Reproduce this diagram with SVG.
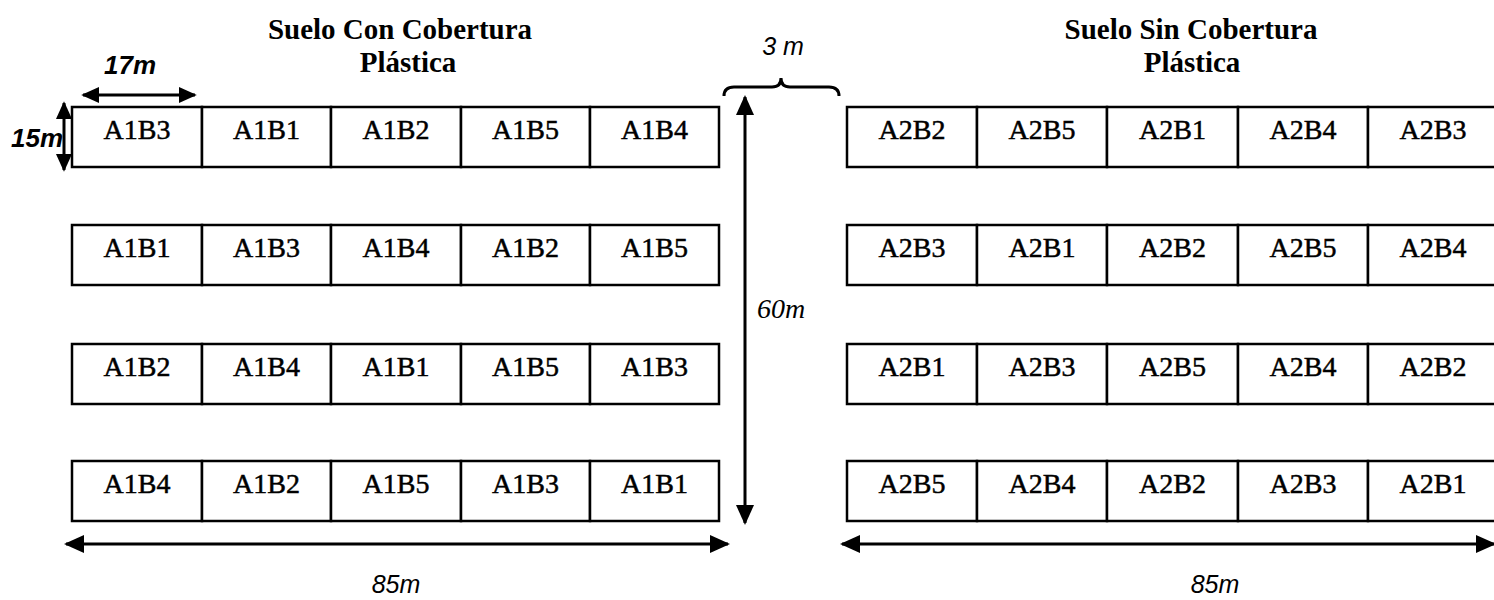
<svg xmlns="http://www.w3.org/2000/svg" width="1494" height="600" viewBox="0 0 1494 600">
<style>
.cell{fill:#fff;stroke:#000;stroke-width:2.5}
.lbl{font-family:"Liberation Serif","Times New Roman",serif;font-size:28px;text-anchor:middle;fill:#000;stroke:#000;stroke-width:0.5}
.title{font-family:"Liberation Serif","Times New Roman",serif;font-size:29px;font-weight:bold;text-anchor:middle;fill:#000}
.dim{font-family:"Liberation Sans",Arial,sans-serif;font-style:italic;font-size:25px;fill:#000}
.dimb{font-family:"Liberation Sans",Arial,sans-serif;font-style:italic;font-weight:bold;font-size:26px;fill:#000}
.dims{font-family:"Liberation Serif","Times New Roman",serif;font-style:italic;font-size:28px;fill:#000}
.arr{fill:none;stroke:#000;stroke-width:3}
</style>
<defs>
<marker id="ah" viewBox="0 0 20 20" refX="18" refY="10" markerWidth="20" markerHeight="20" markerUnits="userSpaceOnUse" orient="auto-start-reverse">
<path d="M0,1 L20,10 L0,19 Z" fill="#000"/>
</marker>
<marker id="ahs" viewBox="0 0 20 20" refX="18" refY="10" markerWidth="18" markerHeight="18" markerUnits="userSpaceOnUse" orient="auto-start-reverse">
<path d="M0,1 L20,10 L0,19 Z" fill="#000"/>
</marker>
</defs>
<rect width="1494" height="600" fill="#fff"/>

<g id="titles">
<text class="title" x="400" y="39">Suelo Con Cobertura</text>
<text class="title" x="408" y="72">Plástica</text>
<text class="title" x="1191" y="39">Suelo Sin Cobertura</text>
<text class="title" x="1192" y="72">Plástica</text>
</g>

<g id="left-block">
<g id="r1c1"><rect class="cell" x="72" y="107" width="130" height="60"/><text class="lbl" x="137" y="139">A1B3</text></g>
<g id="r1c2"><rect class="cell" x="202" y="107" width="129" height="60"/><text class="lbl" x="266.5" y="139">A1B1</text></g>
<g id="r1c3"><rect class="cell" x="331" y="107" width="130" height="60"/><text class="lbl" x="396" y="139">A1B2</text></g>
<g id="r1c4"><rect class="cell" x="461" y="107" width="129" height="60"/><text class="lbl" x="525.5" y="139">A1B5</text></g>
<g id="r1c5"><rect class="cell" x="590" y="107" width="129" height="60"/><text class="lbl" x="654.5" y="139">A1B4</text></g>

<g id="r2c1"><rect class="cell" x="72" y="225" width="130" height="60"/><text class="lbl" x="137" y="257">A1B1</text></g>
<g id="r2c2"><rect class="cell" x="202" y="225" width="129" height="60"/><text class="lbl" x="266.5" y="257">A1B3</text></g>
<g id="r2c3"><rect class="cell" x="331" y="225" width="130" height="60"/><text class="lbl" x="396" y="257">A1B4</text></g>
<g id="r2c4"><rect class="cell" x="461" y="225" width="129" height="60"/><text class="lbl" x="525.5" y="257">A1B2</text></g>
<g id="r2c5"><rect class="cell" x="590" y="225" width="129" height="60"/><text class="lbl" x="654.5" y="257">A1B5</text></g>

<g id="r3c1"><rect class="cell" x="72" y="344" width="130" height="60"/><text class="lbl" x="137" y="376">A1B2</text></g>
<g id="r3c2"><rect class="cell" x="202" y="344" width="129" height="60"/><text class="lbl" x="266.5" y="376">A1B4</text></g>
<g id="r3c3"><rect class="cell" x="331" y="344" width="130" height="60"/><text class="lbl" x="396" y="376">A1B1</text></g>
<g id="r3c4"><rect class="cell" x="461" y="344" width="129" height="60"/><text class="lbl" x="525.5" y="376">A1B5</text></g>
<g id="r3c5"><rect class="cell" x="590" y="344" width="129" height="60"/><text class="lbl" x="654.5" y="376">A1B3</text></g>

<g id="r4c1"><rect class="cell" x="72" y="461" width="130" height="60"/><text class="lbl" x="137" y="493">A1B4</text></g>
<g id="r4c2"><rect class="cell" x="202" y="461" width="129" height="60"/><text class="lbl" x="266.5" y="493">A1B2</text></g>
<g id="r4c3"><rect class="cell" x="331" y="461" width="130" height="60"/><text class="lbl" x="396" y="493">A1B5</text></g>
<g id="r4c4"><rect class="cell" x="461" y="461" width="129" height="60"/><text class="lbl" x="525.5" y="493">A1B3</text></g>
<g id="r4c5"><rect class="cell" x="590" y="461" width="129" height="60"/><text class="lbl" x="654.5" y="493">A1B1</text></g>
</g>

<g id="right-block">
<g id="s1c1"><rect class="cell" x="847" y="107" width="130" height="60"/><text class="lbl" x="912" y="139">A2B2</text></g>
<g id="s1c2"><rect class="cell" x="977" y="107" width="130" height="60"/><text class="lbl" x="1042" y="139">A2B5</text></g>
<g id="s1c3"><rect class="cell" x="1107" y="107" width="131" height="60"/><text class="lbl" x="1172.5" y="139">A2B1</text></g>
<g id="s1c4"><rect class="cell" x="1238" y="107" width="130" height="60"/><text class="lbl" x="1303" y="139">A2B4</text></g>
<g id="s1c5"><rect class="cell" x="1368" y="107" width="132" height="60"/><text class="lbl" x="1433" y="139">A2B3</text></g>

<g id="s2c1"><rect class="cell" x="847" y="225" width="130" height="60"/><text class="lbl" x="912" y="257">A2B3</text></g>
<g id="s2c2"><rect class="cell" x="977" y="225" width="130" height="60"/><text class="lbl" x="1042" y="257">A2B1</text></g>
<g id="s2c3"><rect class="cell" x="1107" y="225" width="131" height="60"/><text class="lbl" x="1172.5" y="257">A2B2</text></g>
<g id="s2c4"><rect class="cell" x="1238" y="225" width="130" height="60"/><text class="lbl" x="1303" y="257">A2B5</text></g>
<g id="s2c5"><rect class="cell" x="1368" y="225" width="132" height="60"/><text class="lbl" x="1433" y="257">A2B4</text></g>

<g id="s3c1"><rect class="cell" x="847" y="344" width="130" height="60"/><text class="lbl" x="912" y="376">A2B1</text></g>
<g id="s3c2"><rect class="cell" x="977" y="344" width="130" height="60"/><text class="lbl" x="1042" y="376">A2B3</text></g>
<g id="s3c3"><rect class="cell" x="1107" y="344" width="131" height="60"/><text class="lbl" x="1172.5" y="376">A2B5</text></g>
<g id="s3c4"><rect class="cell" x="1238" y="344" width="130" height="60"/><text class="lbl" x="1303" y="376">A2B4</text></g>
<g id="s3c5"><rect class="cell" x="1368" y="344" width="132" height="60"/><text class="lbl" x="1433" y="376">A2B2</text></g>

<g id="s4c1"><rect class="cell" x="847" y="461" width="130" height="60"/><text class="lbl" x="912" y="493">A2B5</text></g>
<g id="s4c2"><rect class="cell" x="977" y="461" width="130" height="60"/><text class="lbl" x="1042" y="493">A2B4</text></g>
<g id="s4c3"><rect class="cell" x="1107" y="461" width="131" height="60"/><text class="lbl" x="1172.5" y="493">A2B2</text></g>
<g id="s4c4"><rect class="cell" x="1238" y="461" width="130" height="60"/><text class="lbl" x="1303" y="493">A2B3</text></g>
<g id="s4c5"><rect class="cell" x="1368" y="461" width="132" height="60"/><text class="lbl" x="1433" y="493">A2B1</text></g>
</g>

<g id="connectors">
<line class="arr" x1="83" y1="95" x2="195" y2="95" marker-start="url(#ahs)" marker-end="url(#ahs)"/>
<line class="arr" x1="64" y1="103" x2="64" y2="170" marker-start="url(#ahs)" marker-end="url(#ahs)"/>
<line class="arr" x1="745" y1="97" x2="745" y2="523" marker-start="url(#ah)" marker-end="url(#ah)"/>
<line class="arr" x1="66" y1="544" x2="728" y2="544" marker-start="url(#ah)" marker-end="url(#ah)"/>
<line class="arr" x1="842" y1="544" x2="1494" y2="544" marker-start="url(#ah)" marker-end="url(#ah)"/>
<path class="arr" stroke-width="2.5" d="M724,96 Q724,87 734,87 L772,87 Q781,87 781,78 Q781,87 790,87 L829,87 Q839,87 839,96"/>
</g>

<g id="dimension-labels">
<text class="dimb" x="130" y="74" text-anchor="middle">17m</text>
<text class="dimb" x="11" y="147">15m</text>
<text class="dim" x="783" y="55" text-anchor="middle">3 m</text>
<text class="dims" x="757" y="318">60m</text>
<text class="dim" x="396" y="593" text-anchor="middle">85m</text>
<text class="dim" x="1215" y="593" text-anchor="middle">85m</text>
</g>
</svg>
